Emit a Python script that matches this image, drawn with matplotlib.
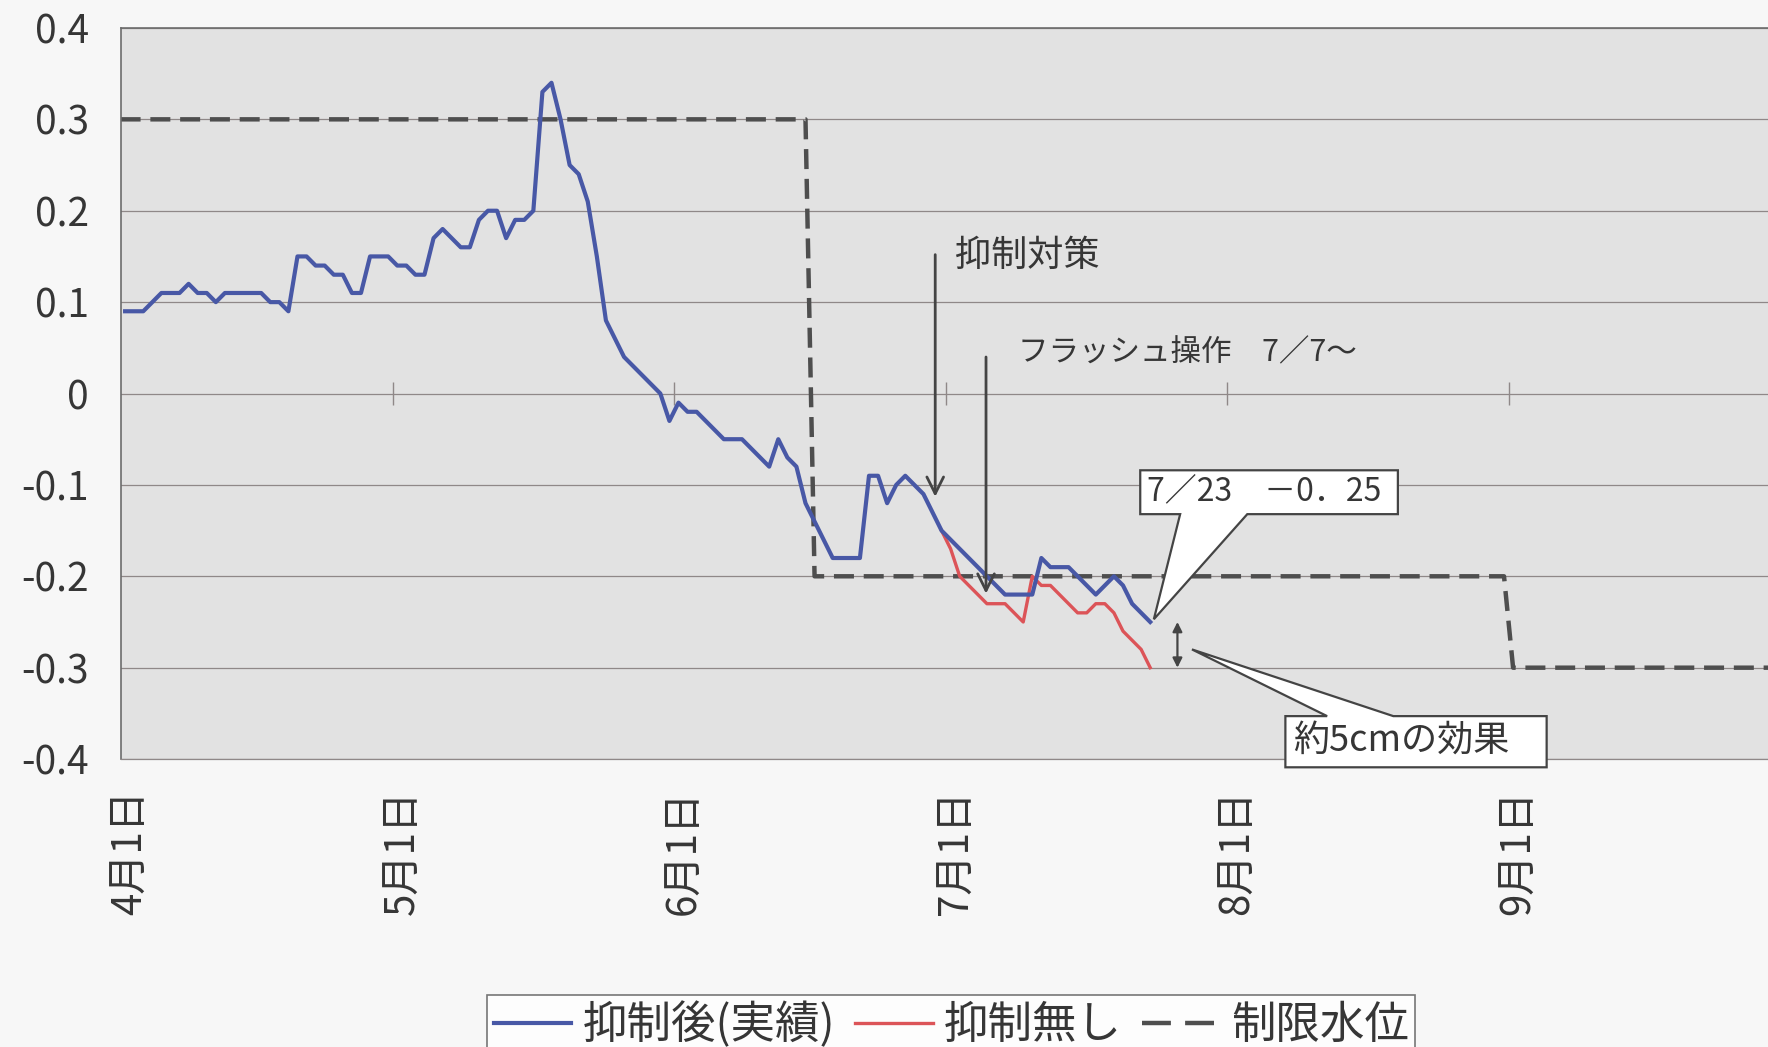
import numpy as np
import matplotlib
matplotlib.use("Agg")
import matplotlib.pyplot as plt
import matplotlib.transforms as mtransforms
from matplotlib.patches import Polygon
from matplotlib.lines import Line2D

plt.rcParams["font.family"] = ["Noto Sans CJK JP", "DejaVu Sans"]

# day index counted from 4/1
month_days = [0, 30, 61, 91, 122, 153]
month_labels = ["4月1日", "5月1日", "6月1日", "7月1日", "8月1日", "9月1日"]
y_ticks = [-0.4, -0.3, -0.2, -0.1, 0.0, 0.1, 0.2, 0.3, 0.4]
y_labels = ["-0.4", "-0.3", "-0.2", "-0.1", "0", "0.1", "0.2", "0.3", "0.4"]

# 抑制後（実績） daily level from 4/1 to 7/23
after = [
    0.09, 0.09, 0.09, 0.10, 0.11, 0.11, 0.11, 0.12, 0.11, 0.11,
    0.10, 0.11, 0.11, 0.11, 0.11, 0.11, 0.10, 0.10, 0.09, 0.15,
    0.15, 0.14, 0.14, 0.13, 0.13, 0.11, 0.11, 0.15, 0.15, 0.15,
    0.14, 0.14, 0.13, 0.13, 0.17, 0.18, 0.17, 0.16, 0.16, 0.19,
    0.20, 0.20, 0.17, 0.19, 0.19, 0.20, 0.33, 0.34, 0.30, 0.25,
    0.24, 0.21, 0.15, 0.08, 0.06, 0.04, 0.03, 0.02, 0.01, 0.00,
    -0.03, -0.01, -0.02, -0.02, -0.03, -0.04, -0.05, -0.05, -0.05, -0.06,
    -0.07, -0.08, -0.05, -0.07, -0.08, -0.12, -0.14, -0.16, -0.18, -0.18,
    -0.18, -0.18, -0.09, -0.09, -0.12, -0.10, -0.09, -0.10, -0.11, -0.13,
    -0.15, -0.16, -0.17, -0.18, -0.19, -0.20, -0.21, -0.22, -0.22, -0.22,
    -0.22, -0.18, -0.19, -0.19, -0.19, -0.20, -0.21, -0.22, -0.21, -0.20,
    -0.21, -0.23, -0.24, -0.25,
]
# 抑制無し, estimated from 6/29 onward
no_ctrl_start = 90
no_ctrl = [
    -0.15, -0.17, -0.20, -0.21, -0.22, -0.23, -0.23, -0.23, -0.24, -0.25,
    -0.20, -0.21, -0.21, -0.22, -0.23, -0.24, -0.24, -0.23, -0.23, -0.24,
    -0.26, -0.27, -0.28, -0.30,
]
# 制限水位: level and number of days it applies
limit_levels = [0.3, -0.2, -0.3]
limit_counts = [76, 77, 30]

c_blue = "#4858a6"
c_red = "#dc5458"
c_lim = "#4e4e4e"
c_grid = "#8f8888"
c_text = "#363636"
c_edge = "#444444"

fig = plt.figure(figsize=(17.68, 10.47), dpi=100, facecolor="#f7f7f7")
ax = fig.add_axes([0.0682, 0.275, 0.9318, 0.6983])
ax.set_facecolor("#e2e2e2")

# each day is drawn in the middle of its slot
days = np.arange(len(after)) + 0.5
nc_days = np.arange(no_ctrl_start, no_ctrl_start + len(no_ctrl)) + 0.5
limit = np.repeat(limit_levels, limit_counts)
lim_days = np.arange(len(limit)) + 0.5
lim_days[0] = 0

ax.plot(lim_days, limit, color=c_lim, lw=3.2, dashes=(4.5, 2.2), zorder=2)
ax.plot(nc_days, no_ctrl, color=c_red, lw=2.4, zorder=3)
ax.plot(days, after, color=c_blue, lw=3.0, zorder=4)

ax.set_xlim(0, 181.6)
ax.set_ylim(-0.4, 0.4)
ax.set_yticks(y_ticks)
ax.set_yticklabels(y_labels)
ax.set_xticks(month_days)
ax.set_xticklabels(month_labels, rotation=90, va="top")
ax.tick_params(axis="y", length=0, pad=23, labelsize=28, colors=c_text)
ax.tick_params(axis="x", length=0, pad=22, labelsize=29, colors=c_text)
shift = mtransforms.ScaledTranslation(10 / 100, 0, fig.dpi_scale_trans)
for lab in ax.get_xticklabels():
    lab.set_transform(lab.get_transform() + shift)

ax.yaxis.grid(True, color=c_grid, lw=0.9)
ax.set_axisbelow(True)
for side in ("left", "top"):
    ax.spines[side].set_color("#6c6c6c")
    ax.spines[side].set_linewidth(1.2)
ax.spines["bottom"].set_color(c_grid)
ax.spines["bottom"].set_linewidth(0.9)
ax.spines["right"].set_visible(False)

# month marks on the zero line
ax.vlines(month_days[1:], -0.013, 0.013, color=c_grid, lw=1.0, zorder=1)

# arrows with notes
arrow_kw = dict(arrowstyle="->", color=c_edge, lw=2.0, mutation_scale=30)
ax.annotate("", xy=(89.8, -0.116), xytext=(89.8, 0.155), arrowprops=arrow_kw, zorder=5)
ax.text(92.0, 0.151, "抑制対策", fontsize=26, va="center", color=c_text)
ax.annotate("", xy=(95.4, -0.222), xytext=(95.4, 0.043), arrowprops=arrow_kw, zorder=5)
ax.text(98.9, 0.044, "フラッシュ操作　7／7～", fontsize=22, va="center", color=c_text)

# callout for the last observed value
end_x = days[-1]
tip1 = (end_x + 0.4, after[-1] + 0.003)
box1 = [(112.4, -0.084), (140.8, -0.084), (140.8, -0.132), (124.2, -0.132),
        tip1, (116.8, -0.132), (112.4, -0.132)]
ax.add_patch(Polygon(box1, closed=True, facecolor="white", edgecolor=c_edge,
                     lw=1.6, zorder=6, clip_on=False))
ax.text(113.2, -0.107, "7／23　－0．25", fontsize=23, va="center",
        color=c_text, zorder=7)

# difference between the two lines
gap_x = end_x + 3.0
ax.annotate("", xy=(gap_x, no_ctrl[-1]), xytext=(gap_x, after[-1]),
            arrowprops=dict(arrowstyle="<|-|>", color=c_edge, lw=1.6,
                            mutation_scale=14, shrinkA=0, shrinkB=0), zorder=5)
tip2 = (gap_x + 1.6, -0.28)
box2 = [(128.4, -0.353), (133.0, -0.353), tip2, (140.3, -0.353), (157.2, -0.353),
        (157.2, -0.409), (128.4, -0.409)]
ax.add_patch(Polygon(box2, closed=True, facecolor="white", edgecolor=c_edge,
                     lw=1.6, zorder=6, clip_on=False))
ax.text(129.3, -0.380, "約5cmの効果", fontsize=26, va="center",
        color=c_text, zorder=7)

handles = [
    Line2D([], [], color=c_blue, lw=3.0),
    Line2D([], [], color=c_red, lw=2.4),
    Line2D([], [], color=c_lim, lw=3.2, dashes=(6.5, 3.2)),
]
leg = fig.legend(handles, ["抑制後(実績)", "抑制無し", "制限水位"],
                 loc="upper center", bbox_to_anchor=(0.538, 0.0497), ncol=3,
                 fontsize=32, frameon=True, fancybox=False, handlelength=1.75,
                 handletextpad=0.25, columnspacing=0.45, borderpad=0.15,
                 borderaxespad=0)
leg.get_frame().set_edgecolor("#555555")
leg.get_frame().set_linewidth(1.2)
leg.get_frame().set_facecolor("white")
for t in leg.get_texts():
    t.set_color(c_text)

fig.savefig("out.png", dpi=100, facecolor=fig.get_facecolor())
